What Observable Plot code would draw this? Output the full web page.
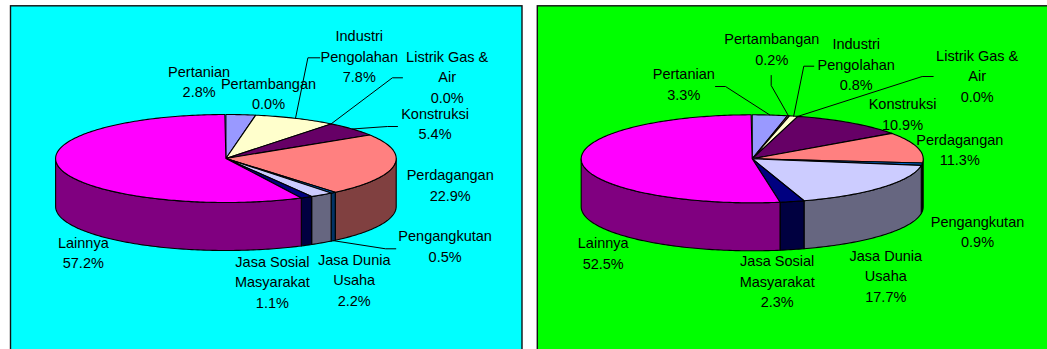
<!DOCTYPE html>
<html>
<head>
<meta charset="utf-8">
<style>html,body{margin:0;padding:0;background:#fff;overflow:hidden}svg{display:block}</style>
<script src="https://cdn.jsdelivr.net/npm/d3@7"></script>
<script src="https://cdn.jsdelivr.net/npm/@observablehq/plot@0.6"></script>
</head>
<body>
<div id="chart"></div>
<script>
// ---- data ----
const sectors = ["Pertanian","Pertambangan","Industri\nPengolahan","Listrik Gas &\nAir","Konstruksi","Perdagangan","Pengangkutan","Jasa Dunia\nUsaha","Jasa Sosial\nMasyarakat","Lainnya"];
const valuesLeft  = [2.8,0.0,7.8,0.0,5.4,22.9,0.5,2.2,1.1,57.2];
const valuesRight = [3.3,0.2,0.8,0.0,10.9,11.3,0.9,17.7,2.3,52.5];
const topColors  = ["#9999FF","#993366","#FFFFCC","#CCFFFF","#660066","#FF8080","#0066CC","#CCCCFF","#000080","#FF00FF"];
const wallColors = ["#4C4C80","#4C1933","#808066","#668080","#330033","#804040","#003366","#666680","#000040","#800080"];

// ---- layout ----
const W = 1047, H = 349;
const leftLayout = {
  panel: {x1: 10.5, x2: 522, y1: 5.8, y2: 360, fill: "#00FFFF"},
  pie: {cx: 225.4, cy: 158, rx: 170.3, ry: 44, depth: 48},
  labels: [[198.6,80],[268,92],[358.8,54.5],[446.7,75],[434.5,122],[449.7,183.5],[444.6,244.5],[353.7,278],[271.9,280],[82.8,251]],
  leaders: {2: [[307.4,57.3],[319.3,57.3]], 3: [[391.9,77.3],[402,77.3]], 4: [[386.9,126],[397,126]], 6: [[385.1,248.3],[395.3,248.3]]}
};
const rightLayout = {
  panel: {x1: 537.3, x2: 1060, y1: 5.8, y2: 360, fill: "#00FF00"},
  pie: {cx: 751.7, cy: 158.3, rx: 171, ry: 44, depth: 48},
  labels: [[683.3,82.5],[771.3,47.5],[855.7,62.5],[976.7,74],[902,112.5],[959.3,148],[977,230],[885.3,274],[776.7,279.5],[602.7,251.5]],
  leaders: {0: [[725,86],[715,86]], 1: [[770.7,85],[770.7,75]], 2: [[803.3,65.7],[813.3,65.7]], 3: [[921.7,76],[932.7,76]]}
};

// ---- geometry helpers: every slice is derived from its value ----
function slices(values) {
  let cum = 0;
  return values.map((v, i) => {
    const a0 = cum / 100 * 2 * Math.PI; cum += v;
    return {i, v, a0, a1: cum / 100 * 2 * Math.PI};
  });
}
const rim = (p, a, drop = 0) => [p.cx + p.rx * Math.sin(a), p.cy - p.ry * Math.cos(a) + drop];
function arcPts(p, a0, a1, drop = 0) {
  const n = Math.max(1, Math.ceil((a1 - a0) / (Math.PI / 180)));
  return d3.range(n + 1).map(k => rim(p, a0 + (a1 - a0) * k / n, drop));
}
function build({panel, pie, labels, leaders}, values, tag) {
  const s = slices(values);
  const walls = [], tops = [], lines = [], texts = [];
  const push = (arr, id, pts, fill) => pts.forEach(([x, y]) => arr.push({id, x, y, fill}));
  s.forEach(d => {
    const a0 = Math.max(d.a0, Math.PI / 2), a1 = Math.min(d.a1, 3 * Math.PI / 2);
    if (a1 > a0) {
      const pts = [...arcPts(pie, a0, a1), ...arcPts(pie, a0, a1, pie.depth).reverse()];
      push(walls, `${tag}w${d.i}`, [...pts, pts[0]], wallColors[d.i]);
    }
    if (d.a1 > d.a0) {
      const pts = [[pie.cx, pie.cy], ...arcPts(pie, d.a0, d.a1), [pie.cx, pie.cy]];
      push(tops, `${tag}t${d.i}`, pts, topColors[d.i]);
    }
    const mid = (d.a0 + d.a1) / 2;
    if (leaders[d.i]) {
      const front = mid > Math.PI / 2 && mid < 3 * Math.PI / 2;
      const pts = [rim(pie, mid, front ? pie.depth : 0), ...leaders[d.i]];
      push(lines, `${tag}l${d.i}`, pts);
    }
    texts.push({x: labels[d.i][0], y: labels[d.i][1], text: `${sectors[d.i]}\n${d.v.toFixed(1)}%`});
  });
  return {panel, walls, tops, lines, texts};
}
const L = build(leftLayout, valuesLeft, "L");
const R = build(rightLayout, valuesRight, "R");

function polyMarks(rows) {
  return Plot.line(rows, {x: "x", y: "y", z: "id", fill: "fill", stroke: "#000", strokeWidth: 1.1, strokeLinejoin: "round", curve: "linear"});
}
const chart = Plot.plot({
  width: W, height: H,
  margin: 0,
  style: {background: "#fff", fontFamily: "'Liberation Sans', Arial, sans-serif"},
  x: {domain: [0, W], range: [0, W], axis: null},
  y: {domain: [0, H], range: [0, H], axis: null},
  color: {type: "identity"},
  marks: [L, R].flatMap(side => [
    Plot.rect([side.panel], {x1: "x1", x2: "x2", y1: "y1", y2: "y2", fill: "fill", stroke: "#111", strokeWidth: 1.4}),
    polyMarks(side.walls),
    polyMarks(side.tops),
    Plot.line(side.lines, {x: "x", y: "y", z: "id", stroke: "#000", strokeWidth: 1, curve: "linear"}),
    Plot.text(side.texts, {x: "x", y: "y", text: "text", fontSize: 14.5, lineHeight: 1.42, fill: "#000", textAnchor: "middle"})
  ])
});
document.getElementById("chart").appendChild(chart);
</script>
</body>
</html>
